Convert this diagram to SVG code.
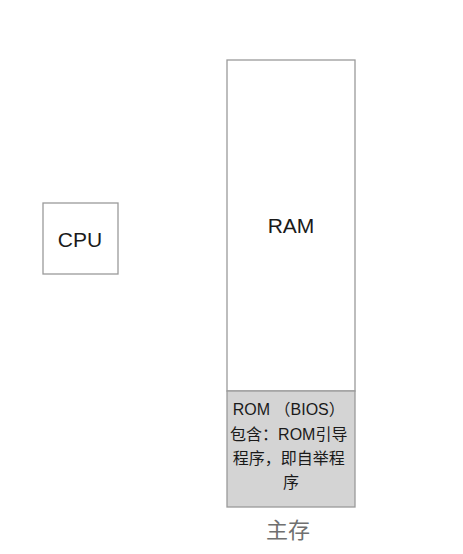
<svg xmlns="http://www.w3.org/2000/svg" width="463" height="554" viewBox="0 0 463 554">
<style>
.box{fill:#ffffff;stroke:#9a9a9a;stroke-width:1.3}
.rom{fill:#d4d4d4;stroke:#9a9a9a;stroke-width:1.3}
.lbl{font-family:"Liberation Sans","Noto Sans CJK SC",sans-serif;fill:#1a1a1a;text-anchor:middle}
.cap{font-family:"Noto Sans CJK SC",sans-serif;fill:#707070;text-anchor:middle}
</style>
<rect width="463" height="554" fill="#ffffff"/>
<g id="cpu">
<rect class="box" x="43" y="203" width="75" height="71"/>
<text class="lbl" x="80" y="247" font-size="21">CPU</text>
</g>
<g id="ram">
<rect class="box" x="227" y="60" width="128" height="331"/>
<text class="lbl" x="291" y="233" font-size="21">RAM</text>
</g>
<g id="rom">
<rect class="rom" x="227" y="391" width="128" height="116"/>
<text class="lbl" font-size="16">
<tspan x="291" y="415">ROM （BIOS）</tspan>
<tspan x="291" y="440">包含：ROM引导</tspan>
<tspan x="291" y="464">程序，即自举程</tspan>
<tspan x="291" y="488">序</tspan>
</text>
</g>
<g id="memory-label">
<text class="cap" x="288" y="538" font-size="22">主存</text>
</g>
<g id="connectors"></g>
</svg>
